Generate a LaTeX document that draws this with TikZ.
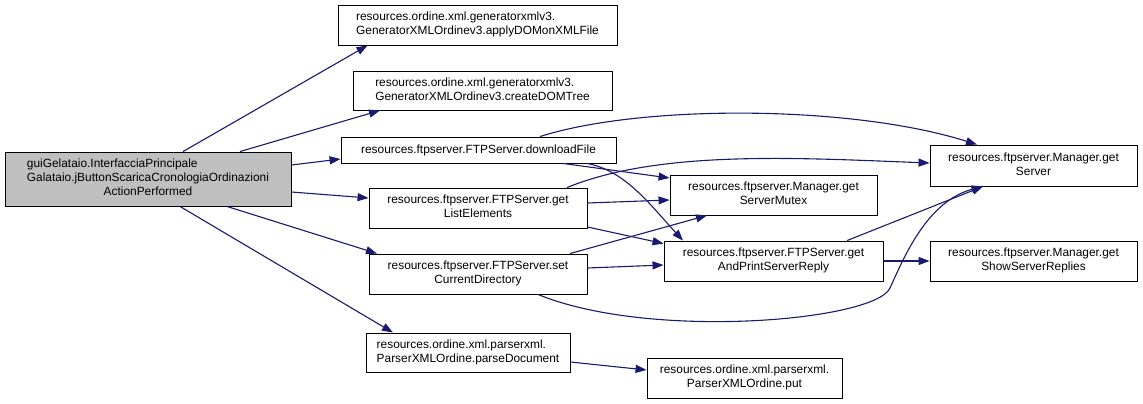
\documentclass[tikz,border=0pt]{standalone}
\usepackage{fontspec}
\setmainfont{Liberation Sans}
\usetikzlibrary{arrows.meta}
\definecolor{edgeblue}{RGB}{25,25,112}
\newcommand{\twolines}[2]{\begin{tabular}{@{}l@{}}#1\\\multicolumn{1}{@{}c@{}}{#2}\end{tabular}}
\begin{document}
\begin{tikzpicture}[x=1pt,y=-1pt,font=\fontsize{11.9}{14}\selectfont,
  fn/.style={draw,fill=white,inner sep=0pt,line width=0.9pt},
  call/.style={draw=edgeblue,line width=1.1pt,-{Triangle[length=11pt,width=8pt]}}]
  \useasboundingbox (0,0) rectangle (1143,404);
  \node[fn,fill=black!25,minimum width=286pt,minimum height=54pt] (root) at (148,179)
    {\begin{tabular}{@{}l@{}}guiGelataio.InterfacciaPrincipale\\Galataio.jButtonScaricaCronologiaOrdinazioni\\\multicolumn{1}{@{}c@{}}{ActionPerformed}\end{tabular}};
  \node[fn,minimum width=279pt,minimum height=40pt] (apply) at (477.5,25) {\twolines{resources.ordine.xml.generatorxmlv3.}{GeneratorXMLOrdinev3.applyDOMonXMLFile}};
  \node[fn,minimum width=259pt,minimum height=39pt] (create) at (482.5,90.5) {\twolines{resources.ordine.xml.generatorxmlv3.}{GeneratorXMLOrdinev3.createDOMTree}};
  \node[fn,minimum width=275pt,minimum height=26pt] (download) at (478.5,150) {resources.ftpserver.FTPServer.downloadFile};
  \node[fn,minimum width=218pt,minimum height=40pt] (list) at (478,208) {\twolines{resources.ftpserver.FTPServer.get}{ListElements}};
  \node[fn,minimum width=218pt,minimum height=40pt] (setdir) at (478,274) {\twolines{resources.ftpserver.FTPServer.set}{CurrentDirectory}};
  \node[fn,minimum width=204pt,minimum height=39pt] (parse) at (468,352.5) {\twolines{resources.ordine.xml.parserxml.}{ParserXMLOrdine.parseDocument}};
  \node[fn,minimum width=195pt,minimum height=40pt] (put) at (744.5,378) {\twolines{resources.ordine.xml.parserxml.}{ParserXMLOrdine.put}};
  \node[fn,minimum width=207pt,minimum height=40pt] (mutex) at (773.5,195) {\twolines{resources.ftpserver.Manager.get}{ServerMutex}};
  \node[fn,minimum width=219pt,minimum height=40pt] (reply) at (773.5,261) {\twolines{resources.ftpserver.FTPServer.get}{AndPrintServerReply}};
  \node[fn,minimum width=207pt,minimum height=41pt] (server) at (1033.5,165.5) {\twolines{resources.ftpserver.Manager.get}{Server}};
  \node[fn,minimum width=207pt,minimum height=40pt] (show) at (1033.5,261) {\twolines{resources.ftpserver.Manager.get}{ShowServerReplies}};
  \draw[call] ([xshift=35pt]root.north) -- ([xshift=-110pt]apply.south);
  \draw[call] ([xshift=92pt]root.north) -- ([xshift=-102.5pt]create.south);
  \draw[call] ([yshift=14pt]root.east) -- ([yshift=-9pt]download.west);
  \draw[call] ([yshift=-13pt]root.east) -- ([yshift=10pt]list.west);
  \draw[call] ([xshift=79pt]root.south) -- ([xshift=-101pt]setdir.north);
  \draw[call] ([xshift=32pt]root.south) -- ([xshift=-75pt]parse.north);
  \draw[call] ([xshift=61.5pt]download.north) .. controls +(100,-32) and +(-127,-40) .. ([xshift=-56.5pt]server.north);
  \draw[call] ([xshift=84.5pt]download.south) -- ([yshift=17pt]mutex.west);
  \draw[call] ([xshift=108.5pt]download.south) .. controls +(38,7) and +(-33,-36) .. ([xshift=-90.5pt]reply.north);
  \draw[call] ([xshift=89pt]list.north) .. controls +(93,-38) and +(-130,-5) .. ([yshift=2.5pt]server.west);
  \draw[call] ([yshift=5pt]list.east) -- ([yshift=-5pt]mutex.west);
  \draw[call] ([yshift=-19pt]list.east) -- ([yshift=-3pt]reply.north west);
  \draw[call] ([xshift=92pt]setdir.north) -- ([xshift=-66.5pt]mutex.south);
  \draw[call] ([yshift=6pt]setdir.east) -- ([yshift=-4pt]reply.west);
  \coordinate (dip) at (890,288);
  \draw[call] ([xshift=60pt]setdir.south) .. controls +(112,46) and +(-15,33) .. (dip)
    .. controls +(15,-33) and +(-55,15) .. ([xshift=-51pt]server.south);
  \draw[call] ([xshift=73.5pt]reply.north) -- ([xshift=-50.5pt]server.south);
  \draw[call] (reply.east) -- (show.west);
  \draw[call] ([yshift=-9.5pt]parse.east) -- ([yshift=8pt]put.west);
\end{tikzpicture}
\end{document}
